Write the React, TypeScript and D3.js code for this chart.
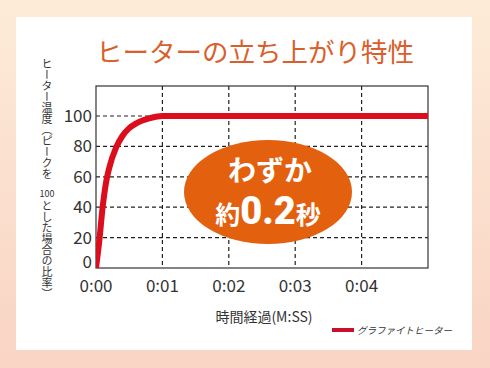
import React from 'react';
import * as d3 from 'd3';

// time in 1/100 s units (tick label 0:01 = 0.01 s), value = % of peak
const times = [0, 0.05, 0.1, 0.15, 0.2, 0.3, 0.4, 0.5, 0.6, 0.7, 0.8, 0.9, 1.0, 5.0];
const temps = [0, 18, 40, 56, 66, 79, 87, 92, 95, 97, 98.5, 99.5, 100, 100];
const xTicks = [0, 1, 2, 3, 4];
const xTickLabels = ['0:00', '0:01', '0:02', '0:03', '0:04'];
const yTicks = [0, 20, 40, 60, 80, 100];

const FONT = '"Noto Sans CJK JP", "Noto Sans", sans-serif';

function App() {
  const W = 490;
  const H = 368;
  const plot = { left: 96, right: 428, top: 86, bottom: 268 };

  const x = d3.scaleLinear().domain([0, 5]).range([plot.left, plot.right]);
  const y = d3.scaleLinear().domain([0, 100]).range([plot.bottom, 116]);

  const line = d3
    .line<number>()
    .x((d, i) => x(times[i]))
    .y((d) => y(d))
    .curve(d3.curveMonotoneX);

  return (
    <svg width={W} height={H} style={{ position: 'absolute', left: 0, top: 0 }}>
      <defs>
        <linearGradient id="bg" x1="0" y1="0" x2="0" y2="1">
          <stop offset="0" stopColor="#fdebd8" />
          <stop offset="1" stopColor="#f9d4c4" />
        </linearGradient>
        <clipPath id="plotClip">
          <rect x={plot.left} y={plot.top} width={plot.right - plot.left} height={plot.bottom - plot.top} />
        </clipPath>
      </defs>
      <rect width={W} height={H} fill="url(#bg)" />
      <rect x={16} y={17} width={456} height={333} fill="#fff" />

      {/* title */}
      <text x={255} y={62} textAnchor="middle" fontFamily={FONT} fontSize={26.5} fill="#d9602c">
        ヒーターの立ち上がり特性
      </text>

      {/* grid */}
      {yTicks.filter((t) => t > 0).map((t) => (
        <line key={'gy' + t} x1={plot.left} x2={plot.right} y1={y(t)} y2={y(t)}
          stroke="#222" strokeWidth={1.2} strokeDasharray="4,3" />
      ))}
      {xTicks.filter((t) => t > 0).map((t) => (
        <line key={'gx' + t} x1={x(t)} x2={x(t)} y1={plot.top} y2={plot.bottom}
          stroke="#222" strokeWidth={1.2} strokeDasharray="4,3" />
      ))}
      <rect x={plot.left} y={plot.top} width={plot.right - plot.left} height={plot.bottom - plot.top}
        fill="none" stroke="#333" strokeWidth={1.2} />

      {/* y tick labels */}
      {yTicks.map((t) => (
        <text key={'yl' + t} x={92} y={t === 0 ? y(t) : y(t) + 6} textAnchor="end" fontFamily={FONT}
          fontSize={17} fill="#333">{t}</text>
      ))}
      {/* x tick labels */}
      {xTicks.map((t, i) => (
        <text key={'xl' + t} x={x(t)} y={292} textAnchor="middle" fontFamily={FONT}
          fontSize={17} fill="#333">{xTickLabels[i]}</text>
      ))}

      {/* y axis title */}
      <text x={47} y={58} writingMode="vertical-rl" fontFamily={FONT} fontSize={11} fill="#333">
        ヒーター温度（ピークを
      </text>
      <text x={47} y={197} textAnchor="middle" fontFamily={FONT} fontSize={9} fill="#333">100</text>
      <text x={47} y={200} writingMode="vertical-rl" fontFamily={FONT} fontSize={11} fill="#333">
        とした場合の比率）
      </text>

      {/* x axis title */}
      <text x={264} y={322} textAnchor="middle" fontFamily={FONT} fontSize={14} fill="#333">
        時間経過(M:SS)
      </text>

      {/* data line */}
      <path d={line(temps) || ''} fill="none" stroke="#dc0d1c" strokeWidth={6}
        strokeLinejoin="round" clipPath="url(#plotClip)" />

      {/* callout */}
      <ellipse cx={268} cy={192} rx={84} ry={52} fill="#e3600f" />
      <text x={270} y={181} textAnchor="middle" fontFamily={FONT} fontWeight={700}
        fontSize={28} fill="#fff">わずか</text>
      <text x={268} y={224} textAnchor="middle" fontFamily={FONT} fontWeight={700} fill="#fff">
        <tspan fontSize={25}>約</tspan>
        <tspan fontSize={38} fontFamily="Roboto, sans-serif" fontWeight={900}>0.2</tspan>
        <tspan fontSize={25}>秒</tspan>
      </text>

      {/* legend */}
      <line x1={332} x2={354} y1={330} y2={330} stroke="#c8102e" strokeWidth={4} />
      <text x={357} y={334} fontFamily={FONT} fontSize={9.5} fill="#333" fontStyle="italic">
        グラファイトヒーター
      </text>
    </svg>
  );
}

export default App;
